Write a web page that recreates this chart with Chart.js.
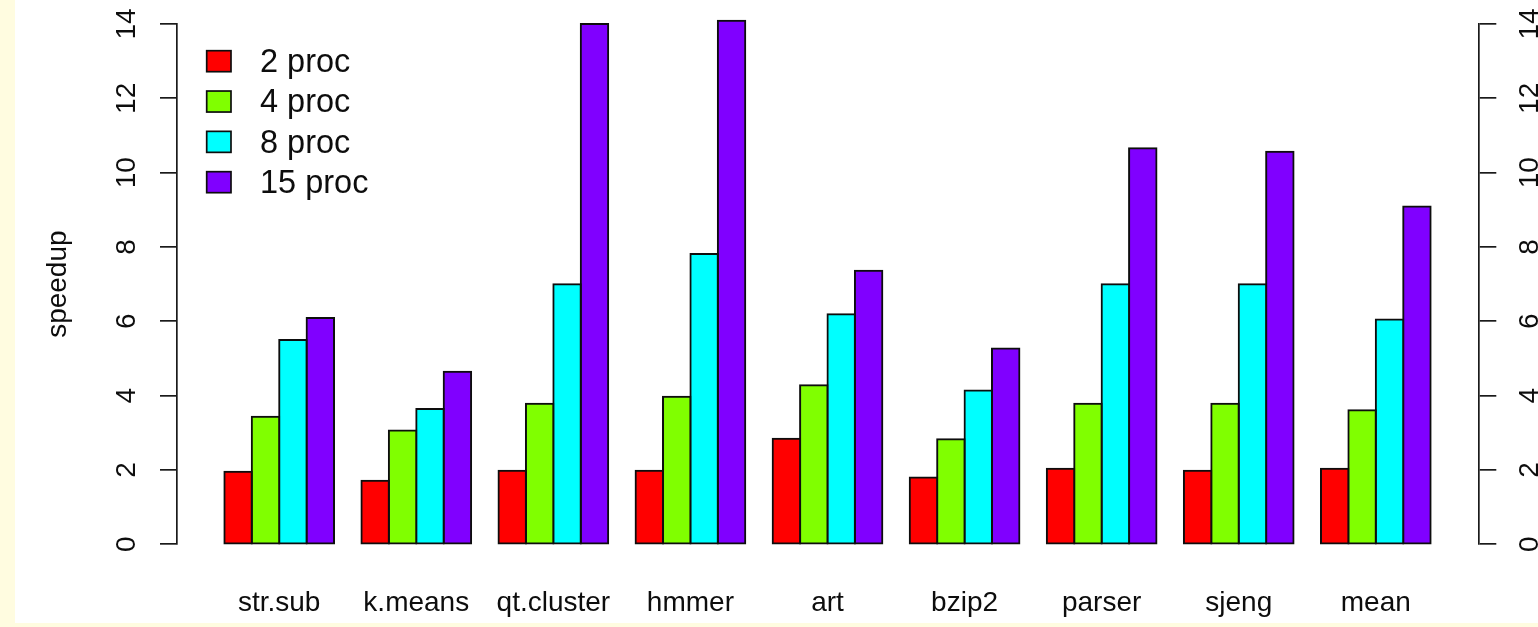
<!DOCTYPE html>
<html>
<head>
<meta charset="utf-8">
<title>speedup</title>
<script src="https://cdn.jsdelivr.net/npm/chart.js@4.4.1/dist/chart.umd.min.js"></script>
<style>
  html, body { margin: 0; padding: 0; width: 1538px; height: 627px; overflow: hidden; background: #fffce0; }
  #wrap { position: absolute; left: 15px; top: 0; width: 1523px; height: 623px; background: #ffffff; }
  canvas { display: block; }
</style>
</head>
<body>
<div id="wrap"><canvas id="chart" width="1523" height="623"></canvas></div>
<script>
// Benchmarks along the x axis
const categories = ['str.sub', 'k.means', 'qt.cluster', 'hmmer', 'art', 'bzip2', 'parser', 'sjeng', 'mean'];

// Speedup per benchmark for each processor count
const proc2  = [1.95, 1.71, 1.98, 1.98, 2.84, 1.80, 2.03, 1.98, 2.03];
const proc4  = [3.43, 3.06, 3.78, 3.97, 4.28, 2.83, 3.78, 3.78, 3.61];
const proc8  = [5.50, 3.64, 7.00, 7.81, 6.19, 4.14, 7.00, 7.00, 6.05];
const proc15 = [6.09, 4.64, 14.00, 14.09, 7.36, 5.27, 10.66, 10.56, 9.09];

const seriesNames  = ['2 proc', '4 proc', '8 proc', '15 proc'];
const seriesValues = [proc2, proc4, proc8, proc15];
const seriesColors = ['#FF0000', '#80FF00', '#00FFFF', '#8000FF'];

// y axis: 0..14 in steps of 2
const yMin = 0, yMax = 14, yStep = 2;
const yTitle = 'speedup';

const FONT = '"Liberation Sans", Arial, Helvetica, sans-serif';
const INK = '#0d0d0d';

// Legend drawn inside the plot, top-left, as filled boxes with outlines
const plotLegend = {
  id: 'plotLegend',
  afterDatasetsDraw(chart) {
    const { ctx, chartArea } = chart;
    const boxW = 24.3, boxH = 21, rowStep = 40.33;
    const x0 = chartArea.left + 29.7;
    const y0 = chartArea.top + 37.2;
    ctx.save();
    ctx.font = '32.5px ' + FONT;
    ctx.textBaseline = 'middle';
    ctx.textAlign = 'left';
    chart.data.datasets.forEach((ds, i) => {
      const cy = y0 + i * rowStep;
      ctx.fillStyle = ds.backgroundColor;
      ctx.fillRect(x0, cy - boxH / 2, boxW, boxH);
      ctx.strokeStyle = INK;
      ctx.lineWidth = 1.7;
      ctx.strokeRect(x0, cy - boxH / 2, boxW, boxH);
      ctx.fillStyle = INK;
      ctx.fillText(ds.label, x0 + 53.3, cy + 1.8);
    });
    ctx.restore();
  }
};

const datasets = seriesNames.map((name, s) => ({
  label: name,
  data: seriesValues[s].map((v, i) => ({ x: i, y: v })),
  backgroundColor: seriesColors[s],
  borderColor: INK,
  borderWidth: 2,
  borderSkipped: false,
  inflateAmount: 1,
  categoryPercentage: 0.8,
  barPercentage: 1.0,
  clip: false
}));

// R-style y axis: line from 0 to 14 with outward ticks and rotated labels
function yAxis(position, width, pad) {
  return {
    type: 'linear',
    position: position,
    min: yMin,
    max: yMax,
    ticks: {
      stepSize: yStep,
      minRotation: 90,
      maxRotation: 90,
      crossAlign: 'center',
      padding: pad,
      color: INK,
      font: { family: FONT, size: 28 }
    },
    grid: {
      display: true,
      drawOnChartArea: false,
      drawTicks: true,
      tickLength: 17,
      color: '#1a1a1a',
      lineWidth: 1.7
    },
    border: { display: true, color: '#1a1a1a', width: 1.7 },
    afterFit(scale) {
      scale.width = width;
      scale.paddingTop = 0;
      scale.paddingBottom = 0;
    }
  };
}

const leftAxis = yAxis('left', 162, 17.6);
leftAxis.title = {
  display: true,
  text: yTitle,
  color: INK,
  font: { family: FONT, size: 28 },
  padding: { top: 26, bottom: 0 }
};
const rightAxis = yAxis('right', 58.7, 18.6);

new Chart(document.getElementById('chart'), {
  type: 'bar',
  data: { datasets },
  options: {
    responsive: false,
    animation: false,
    devicePixelRatio: 1,
    layout: { padding: { left: 0, right: 0, top: 24, bottom: 0 } },
    plugins: {
      legend: { display: false },
      tooltip: { enabled: false },
      title: { display: false }
    },
    scales: {
      x: {
        type: 'linear',
        bounds: 'data',
        offset: false,
        min: -0.7456,
        max: 8.755,
        grid: { display: false, drawTicks: false, offset: false },
        border: { display: false },
        afterBuildTicks(scale) {
          scale.ticks = categories.map((_, i) => ({ value: i }));
        },
        ticks: {
          autoSkip: false,
          maxRotation: 0,
          minRotation: 0,
          padding: 41.9,
          color: INK,
          font: { family: FONT, size: 28 },
          callback: (v) => categories[v]
        },
        afterFit(scale) {
          scale.height = 78.7;
          scale.paddingLeft = 0;
          scale.paddingRight = 0;
        }
      },
      y: leftAxis,
      yRight: rightAxis
    }
  },
  plugins: [plotLegend]
});
</script>
</body>
</html>
